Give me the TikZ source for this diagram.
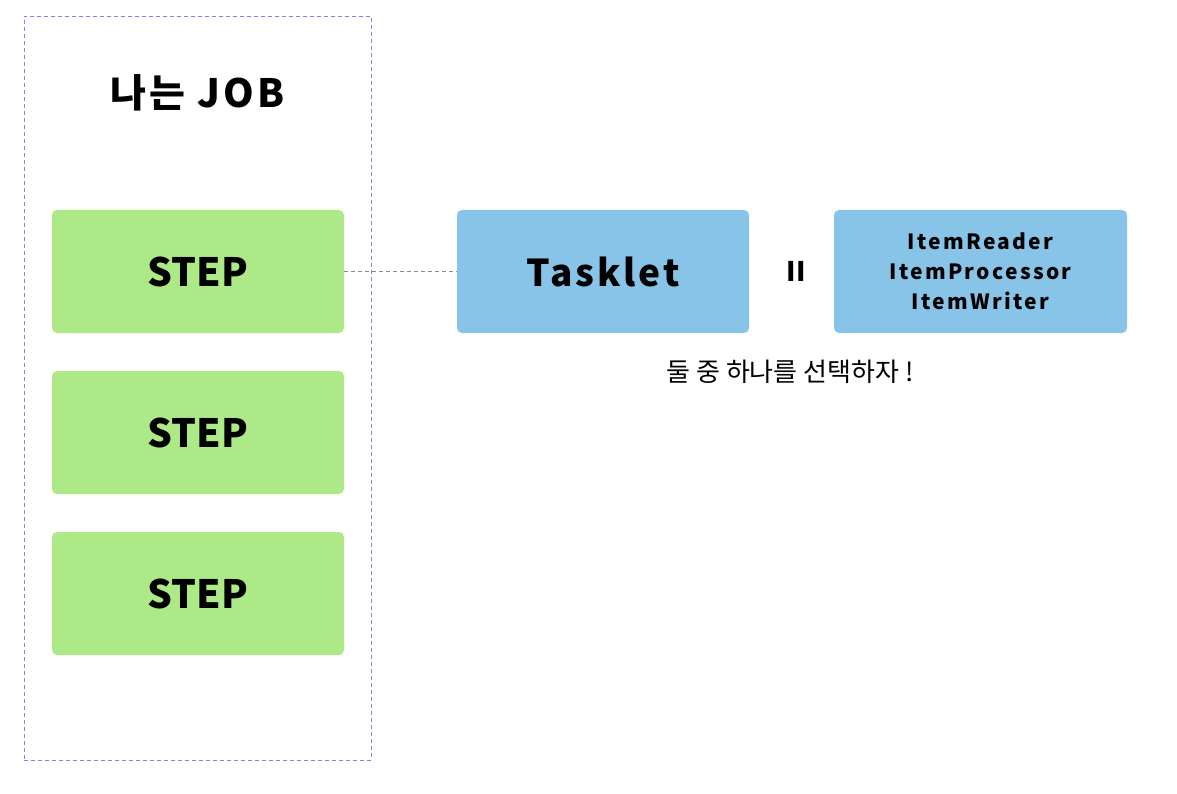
\documentclass[tikz,border=0pt]{standalone}
\usepackage{fontspec}
\setmainfont{Noto Sans CJK KR}
\newfontfamily\renggang{Noto Sans CJK KR}[LetterSpace=8]
\newfontfamily\renggangb{Noto Sans CJK KR}[LetterSpace=11]
\usepackage{xcolor}
\usepackage{tikz}
\usetikzlibrary{shapes,arrows,positioning}
\definecolor{hijau}{HTML}{AEE988}
\definecolor{biru}{HTML}{88C4E8}
\definecolor{ungu}{HTML}{8C7EF0}
\definecolor{abu}{HTML}{8A8A8A}
\tikzstyle{bingkai} = [rectangle, draw=ungu, dashed, dash pattern=on 4pt off 3pt, minimum width=347pt, minimum height=744pt, inner sep=0pt]
\tikzstyle{judul} = [font=\fontsize{39}{42}\renggang\bfseries]
\tikzstyle{stepbox} = [rectangle, fill=hijau, rounded corners=5pt, minimum width=292pt, minimum height=123pt, inner sep=0pt, font=\fontsize{39}{44}\selectfont\bfseries]
\tikzstyle{taskbox} = [rectangle, fill=biru, rounded corners=5pt, minimum width=292pt, minimum height=123pt, inner sep=0pt, font=\fontsize{37}{40}\renggang\bfseries]
\tikzstyle{chunkbox} = [rectangle, fill=biru, rounded corners=5pt, minimum width=293pt, minimum height=123pt, inner sep=0pt, align=center, font=\fontsize{21}{30}\renggangb\bfseries]
\tikzstyle{line} = [draw=abu, dashed, dash pattern=on 4pt off 3pt]

\begin{document}
\begin{tikzpicture}[x=1pt, y=-1pt, node distance=161pt]
\useasboundingbox (0,0) rectangle (1177,794);
\node [bingkai] (job) at (197.5,388) {};
\node [judul] (title) at (197.5,93) {나는 JOB};

\node [stepbox] (step1) at (198,271.5) {STEP};
\node [stepbox, below of=step1] (step2) {STEP};
\node [stepbox, below of=step2] (step3) {STEP};

\node [taskbox, right of=step1, node distance=405pt] (tasklet) {Tasklet};
\node [font=\fontsize{27}{30}\selectfont\bfseries, right of=tasklet, node distance=193pt] (sama) {II};
\node [chunkbox, right of=tasklet, node distance=377.5pt] (chunk) {ItemReader\\ItemProcessor\\ItemWriter};
\node [font=\fontsize{26}{28}\selectfont] (pilih) at (790,372) {둘 중 하나를 선택하자 !};

\path[line](step1) -- (tasklet);
\end{tikzpicture}
\end{document}
